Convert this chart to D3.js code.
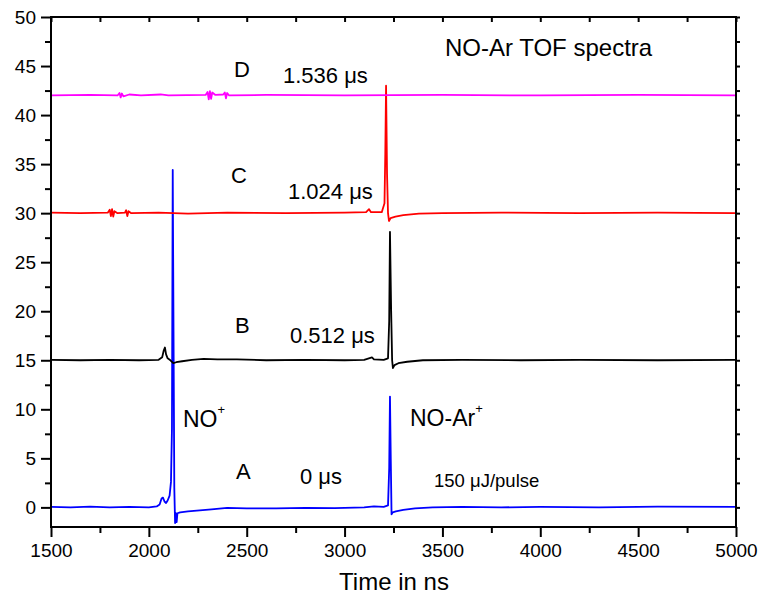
<!DOCTYPE html>
<html>
<head>
<meta charset="utf-8">
<script src="https://cdn.jsdelivr.net/npm/d3@7"></script>
<style>
  body { margin: 0; background: #fff; }
  svg text { font-family: Arial, "Liberation Sans", sans-serif; fill: #000; }
</style>
</head>
<body>
<svg id="chart" width="760" height="601"></svg>
<script>
// time axis (ns) and trace offsets
const xTicks = [1500, 2000, 2500, 3000, 3500, 4000, 4500, 5000];
const yTicks = [0, 5, 10, 15, 20, 25, 30, 35, 40, 45, 50];
const offsets = { A: 0, B: 15, C: 30, D: 42 };
const colors = { A: "#0000ff", B: "#000000", C: "#ff0000", D: "#ff00ff" };

// signal, [time ns, signal] before offset
const traceA = [
  [1500, 0.05], [1600, 0.0], [1700, 0.08], [1800, 0.0], [1900, 0.05], [2000, 0.0],
  [2040, 0.1], [2055, 0.3], [2065, 0.9], [2072, 1.0], [2080, 0.6], [2088, 0.45],
  [2096, 0.7], [2106, 1.2], [2113, 2.6], [2118, 8.0], [2122, 34.4], [2126, 18.0],
  [2130, 2.0], [2134, -1.6], [2138, -0.6], [2142, -1.5], [2146, -0.6], [2160, -0.5],
  [2200, -0.4], [2260, -0.3], [2320, -0.2], [2400, -0.05], [2500, -0.1], [2650, -0.1],
  [2800, -0.05], [2950, -0.08], [3100, 0.0], [3150, 0.1], [3200, 0.05], [3222, 0.2],
  [3228, 4.0], [3232, 11.3], [3236, 5.0], [3240, -0.7], [3246, -0.5], [3262, -0.4],
  [3300, -0.25], [3360, -0.1], [3450, 0.0], [3600, 0.05], [3800, 0.0], [4000, 0.05],
  [4300, 0.0], [4600, 0.08], [5000, 0.05]
];
const traceB = [
  [1500, 0.05], [1650, 0.0], [1800, 0.05], [1950, 0.0], [2050, 0.05], [2068, 0.3],
  [2076, 1.0], [2082, 1.3], [2088, 0.6], [2096, 0.2], [2110, 0.0], [2125, -0.3],
  [2140, -0.2], [2170, -0.1], [2220, 0.05], [2280, 0.15], [2350, 0.1], [2450, 0.1],
  [2600, 0.0], [2800, 0.05], [3000, 0.0], [3100, 0.05], [3140, 0.3], [3150, 0.1],
  [3200, 0.05], [3222, 0.2], [3228, 4.0], [3232, 13.1], [3238, 5.0], [3243, 0.0],
  [3247, -0.8], [3255, -0.5], [3275, -0.3], [3320, -0.15], [3400, 0.0], [3600, 0.05],
  [3900, 0.0], [4200, 0.05], [4600, 0.0], [5000, 0.05]
];
const traceC = [
  [1500, 0.05], [1650, 0.0], [1790, 0.05], [1800, 0.35], [1806, -0.3], [1812, 0.4],
  [1818, -0.35], [1824, 0.2], [1840, 0.0], [1878, 0.05], [1884, 0.3], [1890, -0.3],
  [1896, 0.2], [1910, 0.0], [2050, 0.05], [2200, -0.05], [2400, 0.05], [2700, 0.0],
  [3000, 0.05], [3110, 0.1], [3125, 0.4], [3135, 0.1], [3190, 0.1], [3204, 1.0],
  [3208, 6.0], [3212, 13.0], [3217, 4.0], [3222, 0.0], [3227, -0.8], [3235, -0.5],
  [3260, -0.35], [3300, -0.2], [3380, -0.05], [3500, 0.0], [3800, 0.05], [4200, 0.0],
  [4600, 0.05], [5000, 0.0]
];
const traceD = [
  [1500, 0.0], [1700, 0.05], [1840, 0.0], [1850, 0.25], [1856, -0.2], [1862, 0.2],
  [1870, -0.1], [1900, 0.1], [1960, 0.0], [2060, 0.1], [2100, 0.0], [2290, 0.05],
  [2300, 0.35], [2306, -0.4], [2312, 0.45], [2318, -0.35], [2324, 0.3], [2340, 0.05],
  [2380, 0.1], [2388, 0.3], [2394, -0.3], [2400, 0.25], [2410, 0.0], [2600, 0.05],
  [3000, 0.0], [3500, 0.05], [4000, 0.0], [4500, 0.05], [5000, 0.0]
];

const traces = [
  { key: "A", data: traceA },
  { key: "B", data: traceB },
  { key: "C", data: traceC },
  { key: "D", data: traceD }
];

const svg = d3.select("#chart");
const x = d3.scaleLinear().domain([1500, 5000]).range([51, 736]);
const y = d3.scaleLinear().domain([-2, 50]).range([527, 17]);

// traces
const line = d3.line()
  .x(d => x(d[0]))
  .y(d => y(d[1]));

traces.forEach(tr => {
  svg.append("path")
    .datum(tr.data.map(d => [d[0], d[1] + offsets[tr.key]]))
    .attr("d", line)
    .attr("fill", "none")
    .attr("stroke", colors[tr.key])
    .attr("stroke-width", 1.8)
    .attr("stroke-linejoin", "round");
});

// axes
const xMinor = d3.range(1750, 5000, 500);
const yMinor = d3.range(2.5, 50, 5);

function drawAxis(g, axis) {
  g.call(axis);
  g.select(".domain").remove();
  g.selectAll("line").attr("stroke", "#000").attr("stroke-width", 2);
  g.selectAll("text").style("font-size", "19px").attr("fill", "#000");
}

drawAxis(svg.append("g").attr("transform", "translate(0,527)"),
  d3.axisBottom(x).tickValues(xTicks).tickSize(10).tickPadding(7).tickFormat(d3.format("d")));
drawAxis(svg.append("g").attr("transform", "translate(0,527)"),
  d3.axisBottom(x).tickValues(xMinor).tickSize(6).tickFormat(""));
drawAxis(svg.append("g").attr("transform", "translate(51,0)"),
  d3.axisLeft(y).tickValues(yTicks).tickSize(10).tickPadding(5).tickFormat(d3.format("d")));
drawAxis(svg.append("g").attr("transform", "translate(51,0)"),
  d3.axisLeft(y).tickValues(yMinor).tickSize(6).tickFormat(""));
drawAxis(svg.append("g").attr("transform", "translate(0,17)"),
  d3.axisTop(x).tickValues(xTicks.concat(xMinor)).tickSize(-5).tickFormat(""));
drawAxis(svg.append("g").attr("transform", "translate(736,0)"),
  d3.axisRight(y).tickValues(yTicks.concat(yMinor)).tickSize(4).tickFormat(""));

svg.append("rect")
  .attr("x", 51).attr("y", 17)
  .attr("width", 736 - 51).attr("height", 527 - 17)
  .attr("fill", "none").attr("stroke", "#000").attr("stroke-width", 2);

// labels
const labels = [
  { t: "D", x: 234, y: 77, s: 22 },
  { t: "1.536 \u03bcs", x: 283, y: 83, s: 22 },
  { t: "C", x: 231, y: 183, s: 22 },
  { t: "1.024 \u03bcs", x: 288, y: 199, s: 22 },
  { t: "B", x: 235, y: 333, s: 22 },
  { t: "0.512 \u03bcs", x: 290, y: 343, s: 22 },
  { t: "A", x: 236, y: 479, s: 22 },
  { t: "0 \u03bcs", x: 300, y: 484, s: 22 },
  { t: "150 \u03bcJ/pulse", x: 434, y: 487, s: 18.5 },
  { t: "NO-Ar TOF spectra", x: 445, y: 56, s: 24 }
];
svg.selectAll(".lbl").data(labels).enter().append("text")
  .attr("class", "lbl")
  .attr("x", d => d.x).attr("y", d => d.y)
  .style("font-size", d => d.s + "px")
  .text(d => d.t);

const ions = [
  { t: "NO", x: 183, y: 427 },
  { t: "NO-Ar", x: 410, y: 426 }
];
ions.forEach(d => {
  const t = svg.append("text").attr("x", d.x).attr("y", d.y).style("font-size", "23px");
  t.append("tspan").text(d.t);
  t.append("tspan").attr("dy", -13).style("font-size", "13px").text("+");
});

svg.append("text")
  .attr("x", 394).attr("y", 590)
  .attr("text-anchor", "middle")
  .style("font-size", "24px")
  .text("Time in ns");
</script>
</body>
</html>
